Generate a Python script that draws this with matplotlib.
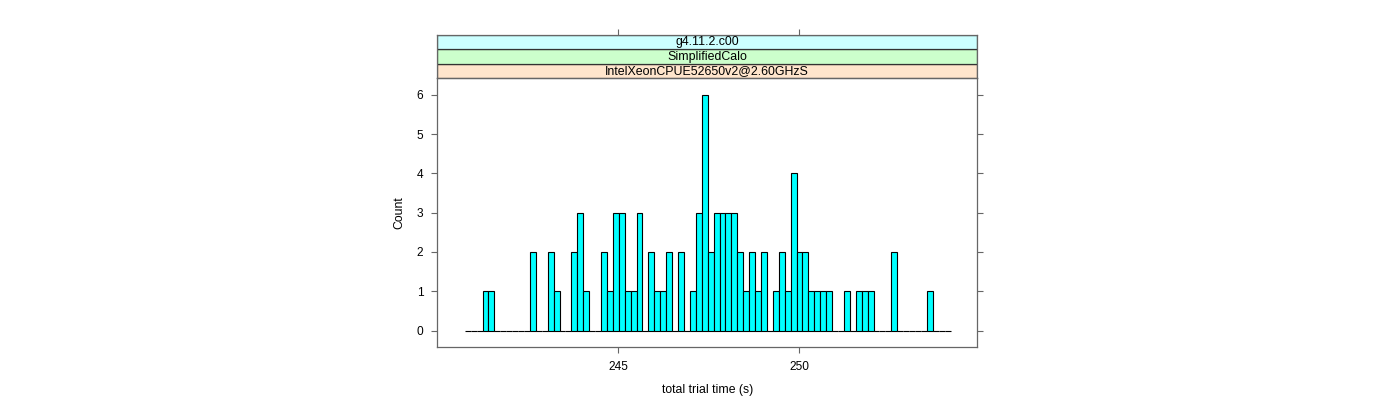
import numpy as np
import matplotlib
matplotlib.use("Agg")
import matplotlib.pyplot as plt
from matplotlib.patches import Rectangle

# histogram bins (total trial time, seconds)
bin_start = 240.75
bin_width = 0.164
counts = [0, 0, 0, 1, 1, 0, 0, 0, 0, 0, 0, 2, 0, 0, 2, 1, 0, 0, 2, 3,
          1, 0, 0, 2, 1, 3, 3, 1, 1, 3, 0, 2, 1, 1, 2, 0, 2, 0, 1, 3,
          6, 2, 3, 3, 3, 3, 2, 1, 2, 1, 2, 0, 1, 2, 1, 4, 2, 2, 1, 1,
          1, 1, 0, 0, 1, 0, 1, 1, 1, 0, 0, 0, 2, 0, 0, 0, 0, 0, 1, 0,
          0, 0]
x_ticks = [245, 250]
y_ticks = [0, 1, 2, 3, 4, 5, 6]
strip_labels = ["IntelXeonCPUE52650v2@2.60GHzS", "SimplifiedCalo", "g4.11.2.c00"]
strip_colors = ["#ffe5cc", "#ccffcc", "#ccffff"]

plt.rcParams['font.family'] = ['Liberation Sans', 'DejaVu Sans']
frame_col = "#666666"

W, H = 1400, 400
fig = plt.figure(figsize=(W / 100, H / 100), dpi=100)

left, right = 437.3 / W, 977 / W
bottom, top = 1 - 346.7 / H, 1 - 78.3 / H
strip_top = 1 - 35 / H

ax = fig.add_axes([left, bottom, right - left, top - bottom])
sax = fig.add_axes([left, top, right - left, strip_top - top], sharex=ax)

edges = bin_start + bin_width * np.arange(len(counts))
ax.bar(edges, counts, width=bin_width, align='edge', color='#00ffff',
       edgecolor='black', linewidth=0.8)

ax.set_xlim(239.99, 254.93)
ax.set_ylim(-0.41, 6.42)
ax.set_xticks(x_ticks)
ax.set_yticks(y_ticks)
ax.tick_params(axis='both', direction='out', length=4, width=0.8,
               color=frame_col, labelsize=8.6, pad=6)
ax.tick_params(axis='y', right=True)
for s in ax.spines.values():
    s.set_color(frame_col)
    s.set_linewidth(0.9)
ax.set_xlabel("total trial time (s)", fontsize=8.8, labelpad=8)
ax.set_ylabel("Count", fontsize=8.8, labelpad=8)

# strips
sax.set_ylim(0, 3)
for i, (lab, col) in enumerate(zip(strip_labels, strip_colors)):
    sax.add_patch(Rectangle((0, i / 3), 1, 1 / 3, transform=sax.transAxes,
                            facecolor=col, edgecolor='#333333', linewidth=0.9))
    sax.text(0.5, (i + 0.5) / 3, lab, transform=sax.transAxes,
             ha='center', va='center', fontsize=8.9)
sax.tick_params(axis='x', top=True, bottom=False, labelbottom=False,
                labeltop=False, direction='out', length=4, width=0.8,
                color=frame_col)
sax.tick_params(axis='y', left=False, labelleft=False)
for s in sax.spines.values():
    s.set_color(frame_col)
    s.set_linewidth(0.9)

fig.savefig("out.png", dpi=100)
